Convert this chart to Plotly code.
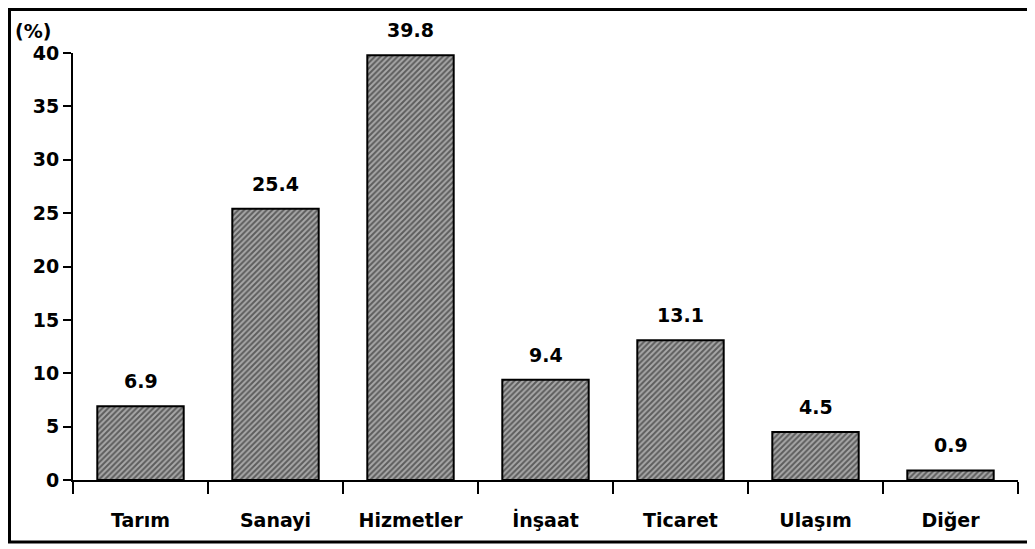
import plotly.graph_objects as go

sectors = ["Tarım", "Sanayi", "Hizmetler", "İnşaat", "Ticaret", "Ulaşım", "Diğer"]
shares = [6.9, 25.4, 39.8, 9.4, 13.1, 4.5, 0.9]
y_ticks = [0, 5, 10, 15, 20, 25, 30, 35, 40]

FONT = "DejaVu Sans, Liberation Sans, Arial, sans-serif"
FS = 19

fig = go.Figure()
fig.add_trace(go.Bar(
    x=sectors,
    y=shares,
    width=0.64,
    marker=dict(
        color="#8a8a8a",
        line=dict(color="black", width=2),
        pattern=dict(shape="/", size=4, solidity=0.5, fgcolor="#111111", bgcolor="#a8a8a8"),
    ),
))

# value labels, a bit higher above the bars than plotly's "outside" text
for s, v in zip(sectors, shares):
    fig.add_annotation(
        x=s, y=v, text=f"{v:.1f}", showarrow=False,
        yanchor="bottom", yshift=12,
        font=dict(family=FONT, size=FS, color="black", weight="bold"),
    )

# page body has an 8px margin, so the figure is a bit smaller than the window
W, H = 1027, 541
L, R, T, B = 65, 17, 45, 69
pw, ph = W - L - R, H - T - B

fig.update_layout(
    width=W, height=H,
    margin=dict(l=L, r=R, t=T, b=B),
    paper_bgcolor="white",
    plot_bgcolor="white",
    showlegend=False,
    font=dict(family=FONT, size=FS, color="black"),
)
fig.update_xaxes(
    showline=True, linecolor="black", linewidth=2,
    ticks="outside", tickson="boundaries", ticklen=12, tickwidth=2, tickcolor="black",
    tickfont=dict(family=FONT, size=FS, color="black", weight="bold"),
    ticklabelstandoff=22,
    showgrid=False,
)
fig.update_yaxes(
    range=[0, 40], tickvals=y_ticks,
    showline=True, linecolor="black", linewidth=2,
    ticks="outside", ticklen=8, tickwidth=2, tickcolor="black",
    tickfont=dict(family=FONT, size=FS, color="black", weight="bold"),
    showgrid=False, zeroline=False,
)

# "(%)" label above the y axis
fig.add_annotation(
    text="(%)", xref="paper", yref="paper",
    x=(5 - L) / pw, y=1 + 22 / ph, xanchor="left", yanchor="middle",
    showarrow=False, font=dict(family=FONT, size=FS, color="black", weight="bold"),
)

# outer frame
fig.add_shape(
    type="rect", xref="paper", yref="paper",
    x0=(-L + 1.5) / pw, x1=(1021 - L) / pw,
    y0=-(534 - (H - B)) / ph, y1=1 + (T - 1.5) / ph,
    line=dict(color="black", width=3),
)

fig.write_html("out.html")
